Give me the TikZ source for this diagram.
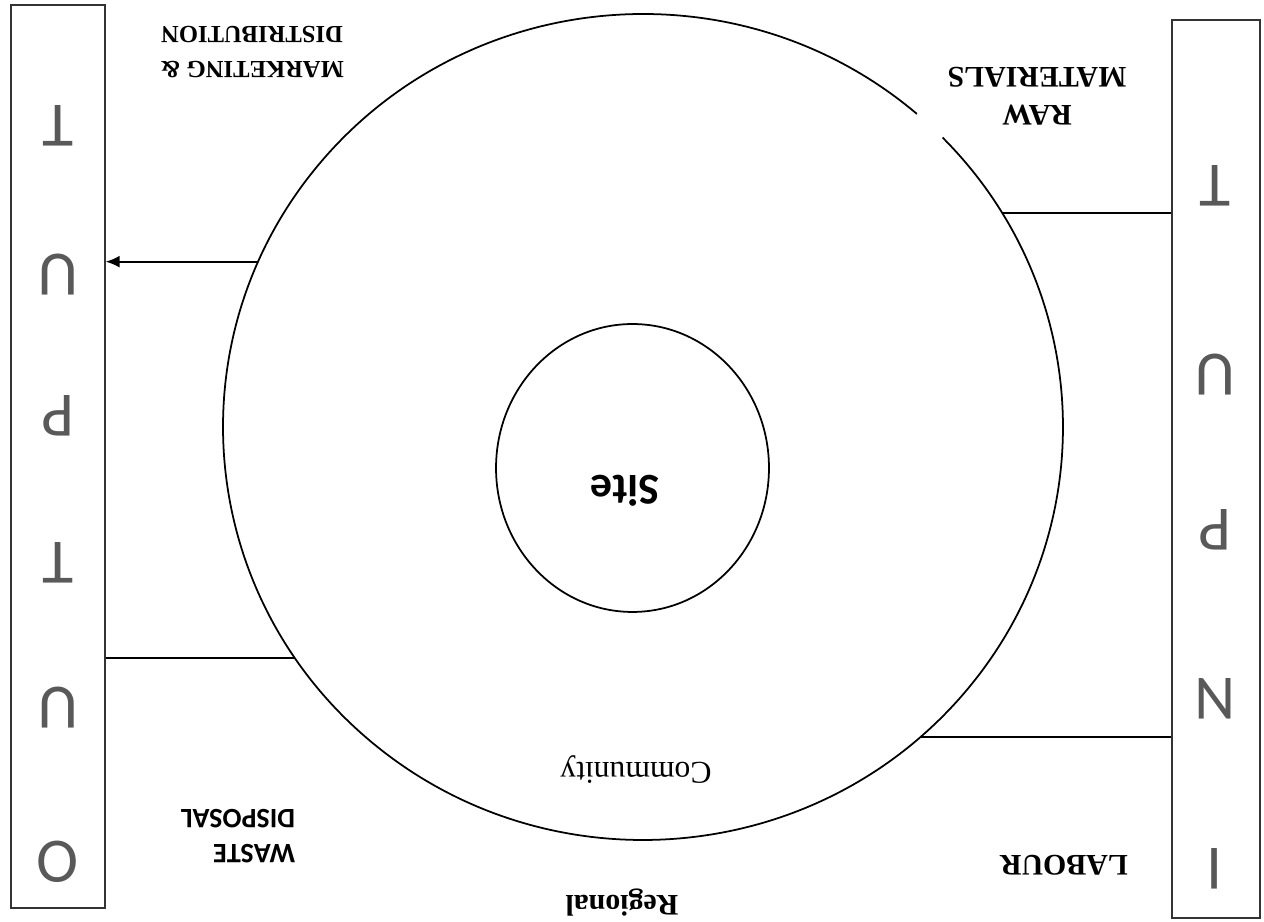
\documentclass[tikz,border=0pt]{standalone}
\usepackage{fontspec}
\setmainfont{Liberation Serif}
\setsansfont{Carlito}
\usetikzlibrary{arrows.meta,shapes.geometric}

\begin{document}
\begin{tikzpicture}[x=0.02cm,y=0.02cm,>={Latex[length=2.8mm,width=2.4mm]},line width=1pt,
  upside/.style={rotate=180,inner sep=0pt},
  bar/.style={draw=black!80,line width=0.8pt,inner sep=0pt},
  letter/.style={upside,font=\sffamily\fontsize{36}{36}\selectfont,text=black!65},
  lbl/.style={upside,font=\bfseries,align=center}]
  \path[use as bounding box] (0,0) rectangle (1264,922);
  % the two side bars
  \node[bar,minimum width=1.88cm,minimum height=18.06cm] (output) at (58,465.5) {};
  \node[bar,minimum width=1.76cm,minimum height=17.96cm] (input) at (1216,453) {};
  \node[letter] (o1) at (58,60) {O};
  \node[letter] (o2) at (58,214) {U};
  \node[letter] (o3) at (58,359) {T};
  \node[letter] (o4) at (58,506) {P};
  \node[letter] (o5) at (58,647) {U};
  \node[letter] (o6) at (58,796) {T};
  \node[letter] (i1) at (1215,53) {I};
  \node[letter] (i2) at (1215,223) {N};
  \node[letter] (i3) at (1215,392) {P};
  \node[letter] (i4) at (1215,547) {U};
  \node[letter] (i5) at (1215,736) {T};
  % rings
  \coordinate (ctr) at (643,495);
  \draw (ctr) ++(49.3:420 and 413) arc[start angle=49.3,end angle=404.5,x radius=420,y radius=413];
  \node[draw,ellipse,inner sep=0pt,minimum width=5.46cm,minimum height=5.76cm] (site) at (632.5,454) {};
  \node[upside,font=\sffamily\bfseries\fontsize{25}{25}\selectfont] (sitelbl) at (625,431) {Site};
  \node[upside,font=\fontsize{18}{18}\selectfont] (commlbl) at (636,152) {Community};
  \node[lbl,font=\bfseries\fontsize{17}{17}\selectfont] (reglbl) at (622,19) {Regional};
  % labels
  \node[lbl,font=\bfseries\fontsize{14}{20}\selectfont] (mktlbl) at (252,870) {MARKETING \&\\DISTRIBUTION};
  \node[lbl,font=\bfseries\fontsize{17}{21.5}\selectfont] (rawlbl) at (1037,826) {RAW\\MATERIALS};
  \node[upside,anchor=west,align=left,font=\sffamily\bfseries\fontsize{16}{20}\selectfont] (wastelbl) at (296,86) {WASTE\\DISPOSAL};
  \node[lbl,font=\bfseries\fontsize{17}{17}\selectfont] (labourlbl) at (1064,57) {LABOUR};
  % links from the ring to the bars
  \path (ctr) ++(156.4:420 and 413) coordinate (mk);
  \path (ctr) ++(214:420 and 413) coordinate (ws);
  \path (ctr) ++(31.2:420 and 413) coordinate (rm);
  \path (ctr) ++(-48.6:420 and 413) coordinate (lb);
  \draw[->] (mk) -- (mk -| output.east);
  \draw (ws) -- (ws -| output.east);
  \draw (rm) -- (rm -| input.west);
  \draw (lb) -- (lb -| input.west);
\end{tikzpicture}
\end{document}
